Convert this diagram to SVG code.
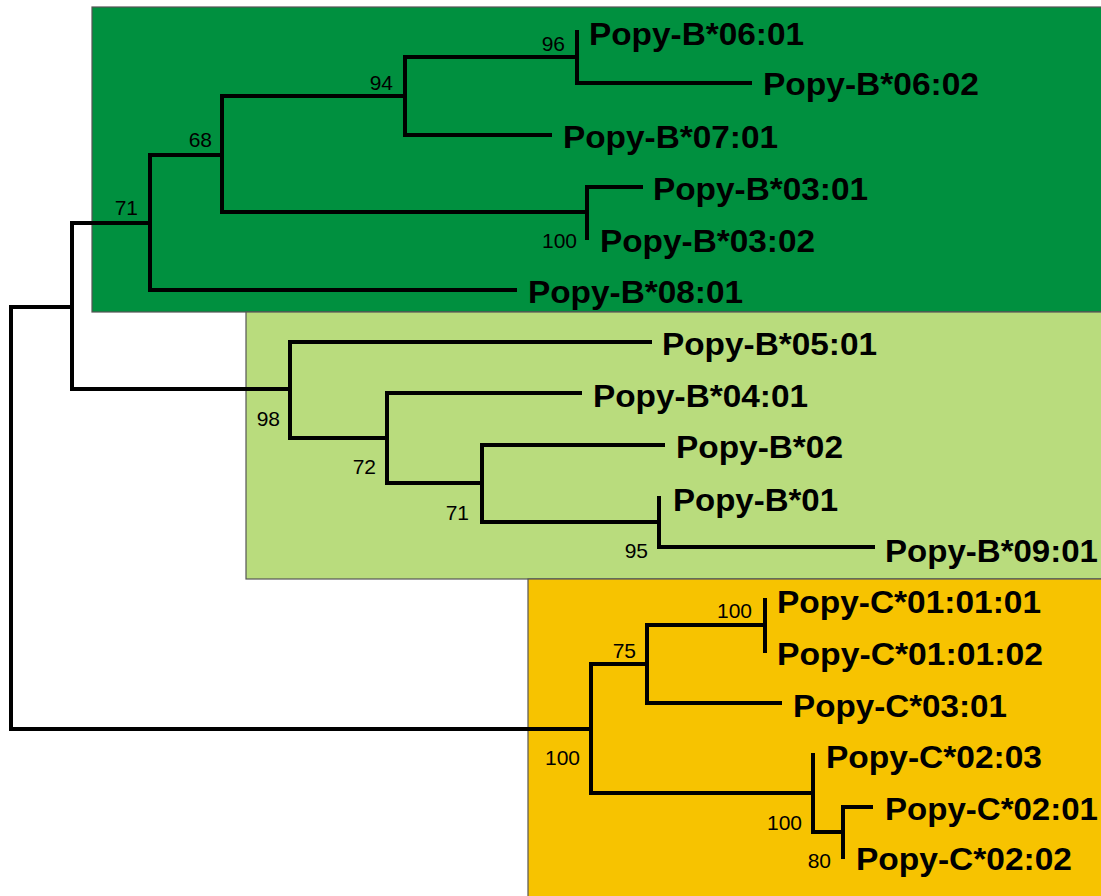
<svg xmlns="http://www.w3.org/2000/svg" width="1101" height="896" viewBox="0 0 1101 896">
<style>
.box{stroke:#555;stroke-width:1.2}
.br{fill:none;stroke:#000;stroke-width:4;stroke-linejoin:miter;stroke-linecap:butt}
.lf{font-family:"Liberation Sans",Arial,sans-serif;font-weight:bold;font-size:31px;fill:#000}
.bs{font-family:"Liberation Sans",Arial,sans-serif;font-size:21px;fill:#000;text-anchor:end}
</style>
<rect width="1101" height="896" fill="#fff"/>
<g id="clades">
<rect id="cladeB1" class="box" x="92" y="7" width="1015" height="305" fill="#00903f"/>
<rect id="cladeB2" class="box" x="246" y="312" width="861" height="267" fill="#b9dc7d"/>
<rect id="cladeC" class="box" x="528" y="579" width="579" height="330" fill="#f7c300"/>
</g>
<g id="connectors">
<path class="br" d="M72 307 H11 V729 H591"/>
<path class="br" d="M150 223 H72 V389 H290"/>
<path class="br" d="M222 155 H150 V290 H517"/>
<path class="br" d="M405 96 H222 V212 H587"/>
<path class="br" d="M577 57 H405 V135 H552"/>
<path class="br" d="M577 30 V83 H752"/>
<path class="br" d="M587 240 V187 H643"/>
<path class="br" d="M652 342 H290 V438 H387"/>
<path class="br" d="M582 393 H387 V483 H482"/>
<path class="br" d="M665 445 H482 V522 H659"/>
<path class="br" d="M659 496 V547 H875"/>
<path class="br" d="M647 664 H591 V793 H813"/>
<path class="br" d="M765 625 H647 V703 H782"/>
<path class="br" d="M765 598 V653"/>
<path class="br" d="M813 753 V832 H843"/>
<path class="br" d="M843 859 V807 H873"/>
</g>
<g id="support">
<text class="bs" x="138" y="215">71</text>
<text class="bs" x="212" y="147">68</text>
<text class="bs" x="393" y="90">94</text>
<text class="bs" x="565" y="51">96</text>
<text class="bs" x="577" y="248">100</text>
<text class="bs" x="280" y="426">98</text>
<text class="bs" x="376" y="474">72</text>
<text class="bs" x="469" y="520">71</text>
<text class="bs" x="648" y="558">95</text>
<text class="bs" x="752" y="618">100</text>
<text class="bs" x="636" y="658">75</text>
<text class="bs" x="580" y="765">100</text>
<text class="bs" x="802" y="830">100</text>
<text class="bs" x="831" y="868">80</text>
</g>
<g id="leaf-B0601"><text class="lf" x="589" y="45" textLength="215" lengthAdjust="spacingAndGlyphs">Popy-B*06:01</text></g>
<g id="leaf-B0602"><text class="lf" x="763" y="95" textLength="216" lengthAdjust="spacingAndGlyphs">Popy-B*06:02</text></g>
<g id="leaf-B0701"><text class="lf" x="563" y="148" textLength="215" lengthAdjust="spacingAndGlyphs">Popy-B*07:01</text></g>
<g id="leaf-B0301"><text class="lf" x="653" y="200" textLength="215" lengthAdjust="spacingAndGlyphs">Popy-B*03:01</text></g>
<g id="leaf-B0302"><text class="lf" x="600" y="252" textLength="215" lengthAdjust="spacingAndGlyphs">Popy-B*03:02</text></g>
<g id="leaf-B0801"><text class="lf" x="528" y="303" textLength="215" lengthAdjust="spacingAndGlyphs">Popy-B*08:01</text></g>
<g id="leaf-B0501"><text class="lf" x="662" y="355" textLength="215" lengthAdjust="spacingAndGlyphs">Popy-B*05:01</text></g>
<g id="leaf-B0401"><text class="lf" x="593" y="407" textLength="215" lengthAdjust="spacingAndGlyphs">Popy-B*04:01</text></g>
<g id="leaf-B02"><text class="lf" x="676" y="458" textLength="167" lengthAdjust="spacingAndGlyphs">Popy-B*02</text></g>
<g id="leaf-B01"><text class="lf" x="673" y="511" textLength="165" lengthAdjust="spacingAndGlyphs">Popy-B*01</text></g>
<g id="leaf-B0901"><text class="lf" x="885" y="562" textLength="213" lengthAdjust="spacingAndGlyphs">Popy-B*09:01</text></g>
<g id="leaf-C010101"><text class="lf" x="777" y="613" textLength="264" lengthAdjust="spacingAndGlyphs">Popy-C*01:01:01</text></g>
<g id="leaf-C010102"><text class="lf" x="777" y="665" textLength="266" lengthAdjust="spacingAndGlyphs">Popy-C*01:01:02</text></g>
<g id="leaf-C0301"><text class="lf" x="793" y="717" textLength="214" lengthAdjust="spacingAndGlyphs">Popy-C*03:01</text></g>
<g id="leaf-C0203"><text class="lf" x="826" y="768" textLength="216" lengthAdjust="spacingAndGlyphs">Popy-C*02:03</text></g>
<g id="leaf-C0201"><text class="lf" x="885" y="820" textLength="213" lengthAdjust="spacingAndGlyphs">Popy-C*02:01</text></g>
<g id="leaf-C0202"><text class="lf" x="856" y="870" textLength="216" lengthAdjust="spacingAndGlyphs">Popy-C*02:02</text></g>
</svg>
